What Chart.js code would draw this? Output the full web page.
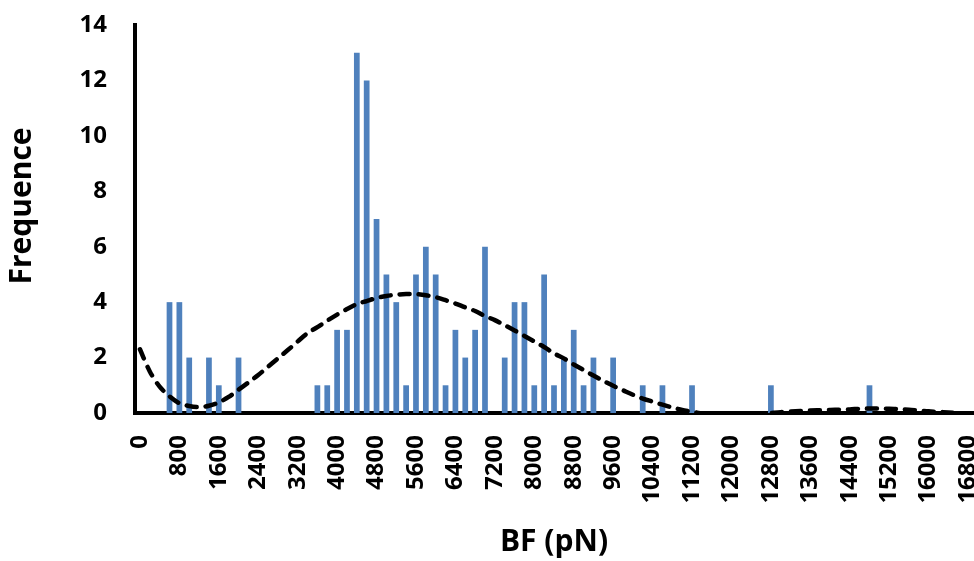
<!DOCTYPE html>
<html>
<head>
<meta charset="utf-8">
<title>BF histogram</title>
<script src="https://cdn.jsdelivr.net/npm/chart.js@4.4.1/dist/chart.umd.min.js"></script>
<style>
    html, body { margin: 0; padding: 0; background: #fff; }
    #root { width: 974px; height: 561px; }
</style>
</head>
<body>
<div id="root"><canvas id="myChart" width="974" height="561"></canvas></div>
<script>
// Bins of 200 pN (category axis, like in Excel)
const bins = [
    0, 200, 400, 600, 800, 1000, 1200, 1400, 1600, 1800,
    2000, 2200, 2400, 2600, 2800, 3000, 3200, 3400, 3600, 3800,
    4000, 4200, 4400, 4600, 4800, 5000, 5200, 5400, 5600, 5800,
    6000, 6200, 6400, 6600, 6800, 7000, 7200, 7400, 7600, 7800,
    8000, 8200, 8400, 8600, 8800, 9000, 9200, 9400, 9600, 9800,
    10000, 10200, 10400, 10600, 10800, 11000, 11200, 11400, 11600, 11800,
    12000, 12200, 12400, 12600, 12800, 13000, 13200, 13400, 13600, 13800,
    14000, 14200, 14400, 14600, 14800, 15000, 15200, 15400, 15600, 15800,
    16000, 16200, 16400, 16600, 16800
];

// Frequence per bin
const counts = [
    0, 0, 0, 4, 4, 2, 0, 2, 1, 0,
    2, 0, 0, 0, 0, 0, 0, 0, 1, 1,
    3, 3, 13, 12, 7, 5, 4, 1, 5, 6,
    5, 1, 3, 2, 3, 6, 0, 2, 4, 4,
    1, 5, 1, 2, 3, 1, 2, 0, 2, 0,
    0, 1, 0, 1, 0, 0, 1, 0, 0, 0,
    0, 0, 0, 0, 1, 0, 0, 0, 0, 0,
    0, 0, 0, 0, 1, 0, 0, 0, 0, 0,
    0, 0, 0, 0, 0
];

// Dashed trend curve, read at each bin
const trend = [
    2.3, 1.5, 0.95, 0.6, 0.35, 0.25, 0.21, 0.26, 0.38, 0.58,
    0.84, 1.1, 1.37, 1.67, 1.97, 2.27, 2.58, 2.88, 3.1, 3.33,
    3.55, 3.75, 3.93, 4.04, 4.15, 4.22, 4.27, 4.29, 4.29, 4.25,
    4.18, 4.07, 3.95, 3.81, 3.68, 3.5, 3.35, 3.17, 2.98, 2.78,
    2.58, 2.38, 2.15, 1.97, 1.75, 1.55, 1.35, 1.16, 0.98, 0.82,
    0.66, 0.52, 0.41, 0.3, 0.2, 0.11, 0.05, -0.02, -0.08, -0.12,
    -0.13, -0.11, -0.07, -0.03, 0.0, 0.03, 0.05, 0.07, 0.09, 0.1,
    0.11, 0.12, 0.13, 0.15, 0.16, 0.16, 0.15, 0.14, 0.12, 0.09,
    0.06, 0.04, 0.02, 0.0, -0.03
];

// Only every 4th bin gets a label
const tickLabels = ['0', '800', '1600', '2400', '3200', '4000', '4800', '5600', '6400', '7200', '8000',
    '8800', '9600', '10400', '11200', '12000', '12800', '13600', '14400', '15200', '16000', '16800'];

const yTicks = [0, 2, 4, 6, 8, 10, 12, 14];

const barColor = 'rgb(79, 129, 189)';
const fontFamily = '"Open Sans", Lato, sans-serif';

// y title drawn by hand so it sits where Excel put it (a bit above the middle)
const yTitlePlugin = {
    id: 'yTitle',
    afterDraw(chart) {
        const c = chart.ctx;
        c.save();
        c.translate(22, 206);
        c.rotate(-Math.PI / 2);
        c.font = 'bold 30px ' + fontFamily;
        c.fillStyle = '#000';
        c.textAlign = 'center';
        c.textBaseline = 'middle';
        c.fillText('Frequence', 0, 0);
        c.restore();
    }
};

const ctx = document.getElementById('myChart').getContext('2d');
const myChart = new Chart(ctx, {
    type: 'bar',
    data: {
        labels: bins.map(String),
        datasets: [
            {
                type: 'line',
                label: 'trend',
                data: trend,
                borderColor: '#000',
                borderWidth: 4.5,
                borderDash: [10, 9],
                borderCapStyle: 'round',
                pointRadius: 0,
                tension: 0.3,
                fill: false,
                clip: 0,
                order: 0,
            },
            {
                label: 'Frequence',
                data: counts,
                backgroundColor: barColor,
                barPercentage: 0.58,
                categoryPercentage: 1,
                order: 1,
            }
        ]
    },
    plugins: [yTitlePlugin],
    options: {
        responsive: false,
        animation: false,
        layout: {
            autoPadding: false,
            padding: { top: 25, right: 1, bottom: 0, left: 0 }
        },
        plugins: {
            legend: { display: false },
            tooltip: { enabled: false }
        },
        scales: {
            x: {
                grid: { display: false, drawTicks: false },
                border: { display: true, color: '#000', width: 4 },
                ticks: {
                    autoSkip: false,
                    minRotation: 90,
                    maxRotation: 90,
                    padding: 22,
                    color: '#000',
                    font: { family: fontFamily, size: 24, weight: 'bold' },
                    callback: function (value, index) {
                        return index % 4 === 0 ? tickLabels[index / 4] : '';
                    }
                },
                title: {
                    display: true,
                    text: 'BF (pN)',
                    color: '#000',
                    font: { family: fontFamily, size: 30, weight: 'bold' },
                    padding: { top: 0, bottom: 1 }
                },
                afterFit: function (scale) {
                    scale.height = 148;
                    scale.paddingLeft = 0;
                    scale.paddingRight = 0;
                }
            },
            y: {
                min: yTicks[0],
                max: yTicks[yTicks.length - 1],
                grid: { display: false, drawTicks: false },
                border: { display: true, color: '#000', width: 4 },
                afterBuildTicks: function (scale) {
                    scale.ticks = yTicks.map(v => ({ value: v }));
                },
                ticks: {
                    padding: 28,
                    color: '#000',
                    font: { family: fontFamily, size: 24, weight: 'bold' }
                },
                afterFit: function (scale) {
                    scale.width = 135;
                    scale.paddingTop = 0;
                    scale.paddingBottom = 0;
                }
            }
        }
    }
});
</script>
</body>
</html>
